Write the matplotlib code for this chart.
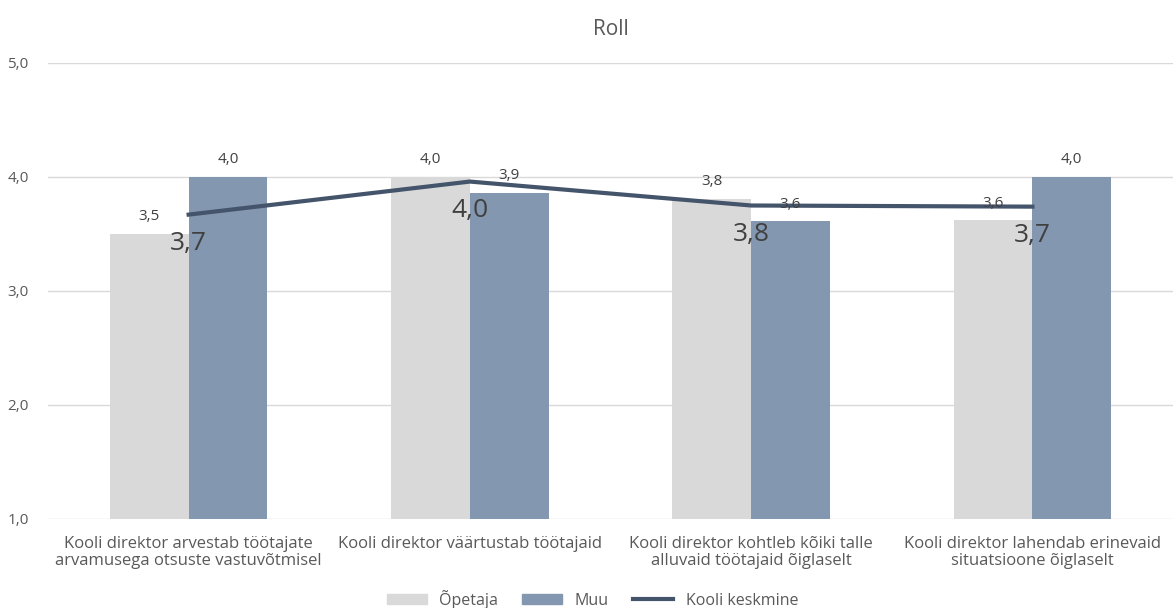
import numpy as np
import matplotlib.pyplot as plt
from matplotlib.lines import Line2D
from matplotlib.patches import Patch

categories = ['Kooli direktor arvestab töötajate\narvamusega otsuste vastuvõtmisel',
              'Kooli direktor väärtustab töötajaid',
              'Kooli direktor kohtleb kõiki talle\nalluvaid töötajaid õiglaselt',
              'Kooli direktor lahendab erinevaid\nsituatsioone õiglaselt']
opetaja = [3.5, 4.0, 3.81, 3.62]
muu = [4.0, 3.86, 3.61, 4.0]
keskmine = [3.67, 3.96, 3.75, 3.74]
yticks = [1.0, 2.0, 3.0, 4.0, 5.0]

plt.rcParams['font.family'] = ['Open Sans', 'DejaVu Sans']
txt = '#595959'

fig = plt.figure(figsize=(11.73, 6.08), dpi=100)
ax = fig.add_axes([48 / 1173, 89 / 608, 1125 / 1173, 456 / 608])

x = np.arange(len(categories))
w = 0.28
ax.bar(x - w / 2, np.array(opetaja) - 1, w, bottom=1, color='#D9D9D9', label='Õpetaja', zorder=2)
ax.bar(x + w / 2, np.array(muu) - 1, w, bottom=1, color='#8497B0', label='Muu', zorder=2)
ax.plot(x, keskmine, color='#44546A', lw=3, zorder=3)

# value labels on the bars
for xi, v in zip(x - w / 2, opetaja):
    ax.annotate(f'{v:.1f}'.replace('.', ','), (xi, v), xytext=(0, 7), textcoords='offset points',
                ha='center', va='bottom', fontsize=11, color='#404040', zorder=4)
for xi, v in zip(x + w / 2, muu):
    ax.annotate(f'{v:.1f}'.replace('.', ','), (xi, v), xytext=(0, 7), textcoords='offset points',
                ha='center', va='bottom', fontsize=11, color='#404040', zorder=4)
# school average labels below the line
for xi, v in zip(x, keskmine):
    ax.annotate(f'{v:.1f}'.replace('.', ','), (xi, v), xytext=(0, -12), textcoords='offset points',
                ha='center', va='top', fontsize=19, color='#404040', zorder=4)

ax.set_xlim(-0.5, 3.5)
ax.set_ylim(1, 5)
ax.set_yticks(yticks)
ax.set_yticklabels([f'{t:.1f}'.replace('.', ',') for t in yticks])
ax.set_xticks(x)
ax.set_xticklabels(categories, fontsize=12, color=txt, linespacing=1.1)
ax.tick_params(axis='y', colors=txt, labelsize=11, length=0, pad=14)
ax.tick_params(axis='x', length=0, pad=12)
ax.grid(axis='y', color='#D9D9D9', lw=1, zorder=0)
for s in ax.spines.values():
    s.set_visible(False)

ax.set_title('Roll', fontsize=15, color=txt, pad=20)

handles = [Patch(color='#D9D9D9', label='Õpetaja'), Patch(color='#8497B0', label='Muu'),
           Line2D([0], [0], color='#44546A', lw=3, label='Kooli keskmine')]
fig.legend(handles=handles, loc='lower center', bbox_to_anchor=(0.505, -0.025), ncol=3,
           frameon=False, fontsize=11.5, labelcolor=txt, handlelength=2.5, handleheight=0.6,
           columnspacing=1.5)

fig.savefig('out.png', dpi=100)
